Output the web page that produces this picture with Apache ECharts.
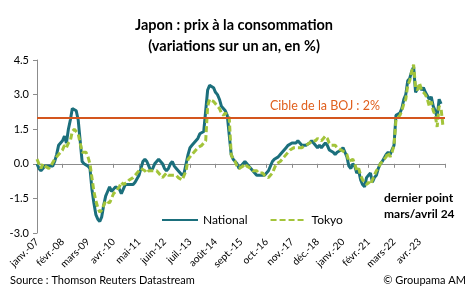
<!DOCTYPE html>
<html>
<head>
<meta charset="utf-8">
<script src="https://cdn.jsdelivr.net/npm/echarts@6/dist/echarts.min.js"></script>
<style>
  html, body { margin: 0; padding: 0; background: #fff; }
  #chart { width: 468px; height: 290px; }
</style>
</head>
<body>
<div id="chart"></div>
<script>
//=============== données =================
// mois (abréviations Excel FR), de janv. 2007 à mai 2024
var moisNoms = ['janv.', 'févr.', 'mars', 'avr.', 'mai', 'juin', 'juil.', 'août', 'sept.', 'oct.', 'nov.', 'déc.'];
var anneeDebut = 2007;
var nbMois = 209;

// IPC hors produits frais, glissement annuel en %
var national = [
    0.0, -0.2, -0.3, -0.2, -0.1, -0.1, -0.1, -0.1, -0.1, 0.1, 0.4, 0.8,
    0.8, 1.0, 1.2, 0.9, 1.5, 1.9, 2.4, 2.4, 2.3, 1.9, 1.0, 0.1,
    0.0, 0.0, -0.1, -0.2, -1.1, -1.7, -2.2, -2.4, -2.5, -2.3, -1.8, -1.4,
    -1.2, -1.0, -1.2, -1.2, -1.0, -1.0, -1.1, -1.3, -1.1, -0.9, -0.9, -0.9,
    -0.9, -0.9, -0.8, -0.8, -0.5, -0.2, 0.1, 0.2, 0.1, -0.1, -0.3, -0.2,
    0.0, 0.1, 0.2, 0.2, 0.0, -0.2, -0.3, -0.2, 0.0, 0.1, -0.1, -0.2,
    -0.3, -0.4, -0.5, -0.4, 0.0, 0.4, 0.7, 0.8, 0.9, 1.0, 1.1, 1.3,
    1.3, 1.4, 1.4, 3.2, 3.4, 3.4, 3.3, 3.1, 3.0, 2.8, 2.5, 2.4,
    2.3, 2.1, 2.1, 0.4, 0.2, 0.1, 0.0, -0.2, -0.1, 0.0, 0.1, 0.0,
    -0.1, -0.1, -0.3, -0.4, -0.5, -0.5, -0.5, -0.5, -0.5, -0.4, -0.3, -0.1,
    0.1, 0.2, 0.2, 0.3, 0.4, 0.5, 0.6, 0.7, 0.8, 0.8, 0.9, 0.9,
    0.9, 1.0, 0.9, 0.8, 0.8, 0.8, 0.8, 0.9, 1.0, 0.9, 0.9, 0.7,
    0.8, 0.7, 0.8, 0.9, 0.8, 0.6, 0.6, 0.5, 0.4, 0.5, 0.5, 0.6,
    0.7, 0.5, 0.3, -0.1, -0.2, 0.0, -0.1, -0.4, -0.3, -0.7, -0.9, -1.0,
    -0.6, -0.5, -0.4, -0.8, -0.6, -0.5, -0.2, 0.0, 0.1, 0.1, 0.4, 0.5,
    0.4, 0.6, 0.8, 2.1, 2.1, 2.2, 2.4, 2.8, 3.0, 3.6, 3.7, 4.0,
    4.2, 3.1, 3.1, 3.4, 3.2, 3.3, 3.1, 3.1, 2.8, 2.9, 2.5, 2.3,
    2.0, 2.8, 2.6
];

var tokyo = [
    0.2, 0.0, -0.2, 0.0, -0.1, -0.1, -0.2, -0.1, -0.1, 0.2, 0.3, 0.4,
    0.5, 0.6, 0.8, 0.7, 0.9, 1.0, 1.4, 1.5, 1.5, 1.3, 0.9, 0.5,
    0.5, 0.5, 0.3, 0.0, -0.6, -1.2, -1.6, -1.9, -2.1, -2.0, -1.8, -1.6,
    -1.6, -1.7, -1.5, -1.3, -1.2, -1.2, -1.0, -0.8, -0.9, -0.9, -0.8, -0.7,
    -0.7, -0.6, -0.5, -0.4, -0.3, -0.2, -0.2, -0.3, -0.4, -0.3, -0.3, -0.3,
    -0.3, -0.3, -0.4, -0.5, -0.6, -0.5, -0.4, -0.5, -0.5, -0.5, -0.5, -0.5,
    -0.6, -0.6, -0.7, -0.7, -0.3, 0.2, 0.3, 0.3, 0.5, 0.6, 0.7, 0.7,
    0.8, 0.9, 1.0, 2.5, 2.8, 2.8, 2.7, 2.6, 2.5, 2.4, 2.2, 2.1,
    2.2, 2.1, 2.0, 0.4, 0.2, 0.1, -0.1, -0.2, -0.2, -0.1, 0.0, -0.1,
    -0.1, -0.2, -0.3, -0.3, -0.3, -0.4, -0.4, -0.4, -0.5, -0.5, -0.6, -0.6,
    -0.4, -0.2, 0.0, 0.0, 0.1, 0.2, 0.3, 0.3, 0.5, 0.6, 0.6, 0.7,
    0.7, 0.7, 0.7, 0.7, 0.7, 0.8, 0.8, 0.9, 1.0, 1.0, 1.0, 1.1,
    1.1, 1.0, 1.1, 1.2, 1.1, 0.9, 0.8, 0.8, 0.8, 0.7, 0.7, 0.6,
    0.6, 0.5, 0.4, 0.1, 0.1, 0.2, 0.0, -0.3, -0.2, -0.5, -0.7, -0.8,
    -0.9, -0.8, -0.9, -0.7, -0.5, -0.3, -0.2, 0.0, 0.1, 0.1, 0.3, 0.5,
    0.3, 0.5, 0.8, 1.9, 2.0, 2.1, 2.3, 2.6, 2.8, 3.4, 3.6, 4.0,
    4.3, 3.3, 3.2, 3.5, 3.2, 3.2, 3.0, 2.8, 2.5, 2.7, 2.3, 2.1,
    1.6, 2.5, 2.4, 1.6
];

var cibleBOJ = 2;
var yTicks = { min: -3, max: 4.5, interval: 1.5 };

var categories = [];
for (var i = 0; i < nbMois; i++) {
    var an = anneeDebut + Math.floor(i / 12);
    categories.push(moisNoms[i % 12] + '-' + String(an).slice(2));
}

//=============== graphique =================
var FONT = 'Lato';
var myChart = echarts.init(document.getElementById('chart'));

var option = {
    animation: false,
    textStyle: { fontFamily: FONT },
    title: {
        text: 'Japon : prix à la consommation\n(variations sur un an, en %)',
        left: 'center',
        top: 10,
        textStyle: { fontSize: 14.5, fontWeight: 'bold', color: '#000', lineHeight: 21, fontFamily: FONT }
    },
    legend: {
        left: 156,
        top: 209,
        itemWidth: 36,
        itemHeight: 12,
        itemGap: 22,
        itemStyle: { opacity: 0 },
        textStyle: { fontSize: 12, color: '#000', fontFamily: FONT },
        data: ['National', 'Tokyo']
    },
    grid: { left: 37, right: 23, top: 60, bottom: 57, containLabel: false },
    xAxis: [{
        type: 'category',
        data: categories,
        boundaryGap: false,
        position: 'bottom',
        axisLine: { onZero: true, lineStyle: { color: '#8c8c8c', width: 1 } },
        axisTick: { show: true, interval: 12, length: 4, lineStyle: { color: '#8c8c8c' } },
        axisLabel: { show: false },
        splitLine: { show: false }
    }, {
        type: 'category',
        data: categories,
        boundaryGap: false,
        position: 'bottom',
        axisLine: { show: false, onZero: false },
        axisTick: { show: false },
        axisLabel: {
            rotate: 45,
            margin: 7,
            fontSize: 10,
            color: '#000',
            fontFamily: FONT,
            interval: function (index) {
                return index % 13 === 0 && index < 208;
            }
        },
        splitLine: { show: false }
    }],
    yAxis: {
        type: 'value',
        min: yTicks.min,
        max: yTicks.max,
        interval: yTicks.interval,
        axisLine: { show: true, lineStyle: { color: '#8c8c8c' } },
        axisTick: { show: true, length: 4, lineStyle: { color: '#8c8c8c' } },
        axisLabel: {
            fontSize: 11,
            color: '#000',
            margin: 8,
            fontFamily: FONT,
            formatter: function (v) { return v.toFixed(1); }
        },
        splitLine: { show: false }
    },
    series: [{
        name: 'National',
        type: 'line',
        data: national,
        showSymbol: false,
        symbol: 'none',
        lineStyle: { color: '#1b6f7c', width: 3 },
        itemStyle: { color: '#1b6f7c' },
        z: 3,
        markLine: {
            silent: true,
            symbol: 'none',
            label: { show: false },
            lineStyle: { color: '#d4561e', width: 2, type: 'solid' },
            data: [{ yAxis: cibleBOJ }]
        }
    }, {
        name: 'Tokyo',
        type: 'line',
        data: tokyo,
        showSymbol: false,
        symbol: 'none',
        lineStyle: { color: '#a3c43a', width: 3, type: [6, 3] },
        itemStyle: { color: '#a3c43a' },
        z: 4
    }],
    graphic: [{
        type: 'text',
        left: 270,
        top: 99,
        style: { text: 'Cible de la BOJ : 2%', fontFamily: FONT, fontSize: 12.5, fill: '#e0601e' }
    }, {
        type: 'text',
        left: 384,
        top: 190,
        style: { text: 'dernier point\nmars/avril 24', fontFamily: FONT, fontSize: 12, fontWeight: 'bold', fill: '#000', lineHeight: 16, align: 'center', x: 33 }
    }, {
        type: 'text',
        left: 10,
        top: 275,
        style: { text: 'Source : Thomson Reuters Datastream', fontFamily: FONT, fontSize: 11, fill: '#000' }
    }, {
        type: 'text',
        right: 2,
        top: 275,
        style: { text: '© Groupama AM', fontFamily: FONT, fontSize: 11, fill: '#000' }
    }]
};
myChart.setOption(option);
</script>
</body>
</html>
